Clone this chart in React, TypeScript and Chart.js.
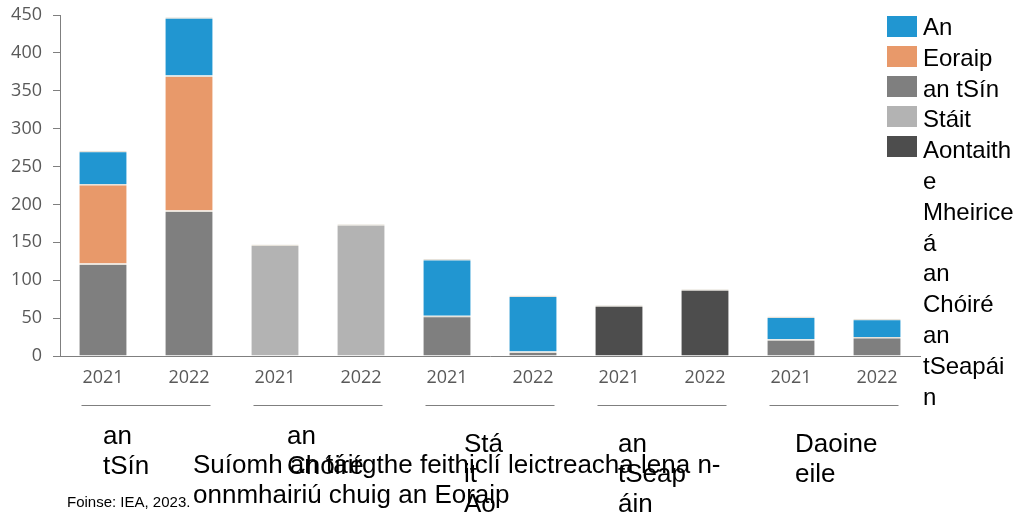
import React, { useEffect, useRef } from "react";
import { Chart, registerables } from "chart.js";

Chart.register(...registerables);

// ---- data ----
const categories = ["2021", "2022", "2021", "2022", "2021", "2022", "2021", "2022", "2021", "2022"];
const groups = ["an tSín", "an Chóiré", "Stáit Aontaithe Mheiriceá", "an tSeapáin", "Daoine eile"];
const groupLabelLines = [
  ["an", "tSín"],
  ["an", "Chóiré"],
  ["Stá", "it", "Ao"],
  ["an", "tSeap", "áin"],
  ["Daoine", "eile"],
];
const seriesNames = ["An Eoraip", "an tSín", "Stáit Aontaithe Mheiriceá", "an Chóiré", "an tSeapáin"];
const seriesColors = ["#2196d1", "#e8996a", "#7f7f7f", "#b3b3b3", "#4d4d4d"];

const europe = [44, 77, null, null, 75, 74, null, null, 30, 24];
const china = [105, 178, null, null, null, null, null, null, null, null];
const usa = [122, 192, null, null, 53, 6, null, null, 22, 25];
const korea = [null, null, 147, 174, null, null, null, null, null, null];
const japan = [null, null, null, null, null, null, 67, 88, null, null];

const yMax = 450;
const yStep = 50;

const titleLines = ["Suíomh an táirgthe feithiclí leictreacha lena n-", "onnmhairiú chuig an Eoraip"];
const sourceText = "Foinse: IEA, 2023.";

// ---- layout (not data) ----
const groupLabelDx = [-43, -31, -26, -44, -39];
const groupLabelBase = [444, 444, 452, 452, 452];

function wrap(ctx: CanvasRenderingContext2D, text: string, maxW: number): string[] {
  const words = text.split(" ");
  const lines: string[] = [];
  let cur = "";
  for (const w of words) {
    const test = cur ? cur + " " + w : w;
    if (ctx.measureText(test).width <= maxW) {
      cur = test;
      continue;
    }
    if (cur) lines.push(cur);
    cur = "";
    if (ctx.measureText(w).width <= maxW) {
      cur = w;
    } else {
      let piece = "";
      for (const ch of Array.from(w)) {
        if (ctx.measureText(piece + ch).width <= maxW) piece += ch;
        else {
          lines.push(piece);
          piece = ch;
        }
      }
      cur = piece;
    }
  }
  if (cur) lines.push(cur);
  return lines;
}

const decorPlugin = {
  id: "decor",
  afterDraw(chart: any) {
    const ctx: CanvasRenderingContext2D = chart.ctx;
    const x = chart.scales.x;
    const step = x.getPixelForValue(1) - x.getPixelForValue(0);
    ctx.save();
    // group lines and labels
    groups.forEach((_, i) => {
      const c = (x.getPixelForValue(2 * i) + x.getPixelForValue(2 * i + 1)) / 2;
      ctx.strokeStyle = "#7f7f7f";
      ctx.lineWidth = 1;
      ctx.beginPath();
      ctx.moveTo(c - 0.75 * step, 405.5);
      ctx.lineTo(c + 0.75 * step, 405.5);
      ctx.stroke();
      ctx.font = '26px "Liberation Sans", Arial, sans-serif';
      ctx.fillStyle = "#000";
      ctx.textAlign = "left";
      ctx.textBaseline = "alphabetic";
      groupLabelLines[i].forEach((ln, j) => {
        ctx.fillText(ln, c + groupLabelDx[i], groupLabelBase[i] + j * 30);
      });
    });
    // axis title
    ctx.font = '26px "Liberation Sans", Arial, sans-serif';
    titleLines.forEach((ln, j) => ctx.fillText(ln, 193, 473 + j * 30));
    // source
    ctx.font = '15px "Liberation Sans", Arial, sans-serif';
    ctx.fillText(sourceText, 67, 507);
    // legend
    seriesNames.forEach((_, i) => {
      ctx.fillStyle = seriesColors[i];
      ctx.fillRect(887, 16 + i * 30, 30, 21);
    });
    ctx.font = '24px "Liberation Sans", Arial, sans-serif';
    ctx.fillStyle = "#000";
    const lines: string[] = [];
    seriesNames.forEach((n) => lines.push(...wrap(ctx, n, 92)));
    lines.forEach((ln, j) => ctx.fillText(ln, 923, 35 + j * 30.8));
    ctx.restore();
  },
};

export default function App() {
  const ref = useRef<HTMLCanvasElement | null>(null);
  useEffect(() => {
    if (!ref.current) return;
    const seg = (label: string, data: (number | null)[], color: string) => ({
      label,
      data,
      backgroundColor: color,
      borderColor: "#e6e2da",
      borderWidth: { top: 1.5, left: 0, right: 0, bottom: 0 },
      borderSkipped: "start" as const,
      categoryPercentage: 1,
      barPercentage: 0.55,
    });
    const chart = new Chart(ref.current, {
      type: "bar",
      data: {
        labels: categories,
        datasets: [
          seg(seriesNames[2], usa, seriesColors[2]),
          seg(seriesNames[3], korea, seriesColors[3]),
          seg(seriesNames[4], japan, seriesColors[4]),
          seg(seriesNames[1], china, seriesColors[1]),
          seg(seriesNames[0], europe, seriesColors[0]),
        ],
      },
      options: {
        animation: false,
        responsive: false,
        layout: { padding: { top: 15, right: 110, left: 0, bottom: 0 } },
        plugins: { legend: { display: false }, tooltip: { enabled: false } },
        scales: {
          x: {
            stacked: true,
            grid: { display: false, drawTicks: false },
            border: { display: true, color: "#7f7f7f", width: 1 },
            ticks: { color: "#595959", font: { family: "'Open Sans'", size: 18 }, padding: 11, maxRotation: 0 },
            afterFit: (s: any) => {
              s.height = 156;
              s.paddingLeft = 0;
              s.paddingRight = 0;
            },
          },
          y: {
            stacked: true,
            min: 0,
            max: yMax,
            grid: { drawOnChartArea: false, drawTicks: true, tickLength: 7, color: "#7f7f7f" },
            border: { display: true, color: "#7f7f7f", width: 1 },
            ticks: { stepSize: yStep, color: "#595959", font: { family: "'Open Sans'", size: 18 }, padding: 11 },
            afterFit: (s: any) => {
              s.width = 60;
              s.paddingTop = 0;
              s.paddingBottom = 0;
            },
          },
        },
      },
      plugins: [decorPlugin],
    });
    return () => chart.destroy();
  }, []);
  return (
    <div style={{ position: "fixed", left: 0, top: 0, width: 1030, height: 512, background: "#fff" }}>
      <canvas ref={ref} width={1030} height={512} style={{ width: 1030, height: 512 }} />
    </div>
  );
}
